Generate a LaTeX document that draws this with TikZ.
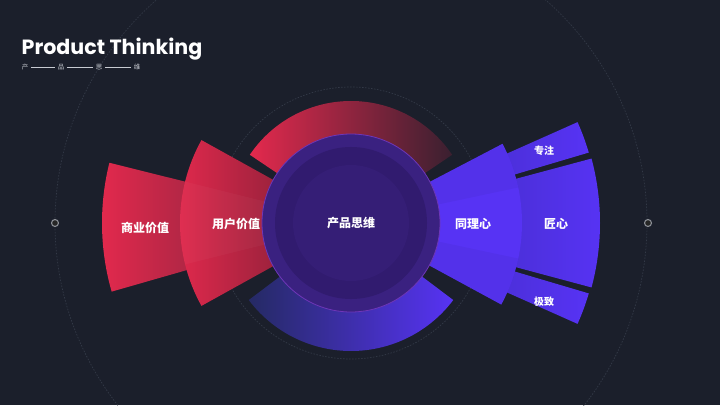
\documentclass[tikz,border=0pt]{standalone}
\usepackage{fontspec}
\setmainfont{Poppins}
\newfontfamily\cjk{Noto Sans CJK SC}
\definecolor{bg}{HTML}{1B1F2B}
\definecolor{ringgray}{HTML}{333947}
\definecolor{redA}{HTML}{E3294D}
\definecolor{redB}{HTML}{A62643}
\definecolor{redfade}{HTML}{3A2030}
\definecolor{blueA}{HTML}{5733F4}
\definecolor{blueB}{HTML}{4A2FD6}
\definecolor{bluedark}{HTML}{252A64}
\definecolor{coreA}{HTML}{3A2180}
\definecolor{coreB}{HTML}{311B6F}
\definecolor{coreC}{HTML}{351E76}
\definecolor{coreedge}{HTML}{6E36B8}
\definecolor{subgray}{HTML}{C8CBD2}
\definecolor{knobgray}{HTML}{8A8D94}
\newcommand\sectorpath[4]{(#1:#4) arc[start angle=#1,end angle=#2,radius=#4] -- (#2:#3) arc[start angle=#2,end angle=#1,radius=#3] -- cycle}
\begin{document}
\begin{tikzpicture}[x=1pt,y=1pt,
  tag/.style={text=white,font=\cjk\bfseries\fontsize{12}{12}\selectfont,inner sep=1pt},
  smalltag/.style={text=white,font=\cjk\bfseries\fontsize{10}{10}\selectfont,inner sep=1pt},
  subtag/.style={text=subgray,font=\cjk\fontsize{6.5}{6.5}\selectfont,inner sep=0.5pt},
  ring/.style={draw=ringgray,line width=0.7pt,dash pattern=on 1.5pt off 1.5pt},
  knob/.style={circle,fill=black!85,draw=knobgray,line width=1.1pt,minimum size=7pt,inner sep=0pt}]
  \useasboundingbox (0,0) rectangle (720,405);
  \clip (0,0) rectangle (720,405);
  \fill[bg](0,0) rectangle (720,405);
  \coordinate (c) at (351,182);
  \draw[ring](c) circle[radius=296];
  \draw[ring](c) circle[radius=136];
  \node[knob] (knobleft) at (55,182) {};
  \node[knob] (knobright) at (648,182) {};
  \begin{scope}[shift={(c)}]
    \shade[left color=redA,right color=redfade] \sectorpath{34}{146}{70}{122};
    \shade[left color=bluedark,right color=blueA] \sectorpath{217}{323}{70}{128};
    \shade[left color=redA,right color=redB] \sectorpath{166}{196}{150}{249};
    \shade[left color=redA,right color=redB!85!black] \sectorpath{151}{209}{60}{171};
    \fill[white,opacity=.03] \sectorpath{166}{194}{60}{171};
    \shade[left color=blueB,right color=blueA] \sectorpath{-15}{15}{150}{249};
    \shade[left color=blueB,right color=blueA] \sectorpath{16.5}{24}{150}{248};
    \shade[left color=blueB,right color=blueA] \sectorpath{-24}{-16.5}{150}{248};
    \fill[blueA] \sectorpath{-28.5}{27.6}{60}{171};
    \fill[black,opacity=.04] \sectorpath{12}{27.6}{60}{171};
    \fill[black,opacity=.04] \sectorpath{-28.5}{-12}{60}{171};
    \filldraw[fill=coreA,draw=coreedge,line width=0.8pt](0,0) circle[radius=89];
    \fill[coreB](0,0) circle[radius=76];
    \fill[coreC](0,0) circle[radius=58];
  \end{scope}
  \node[tag] (core) at (c) {产品思维};
  \node[tag] (user) at (236,181) {用户价值};
  \node[tag] (biz) at (145,177) {商业价值};
  \node[tag] (empathy) at (473,181) {同理心};
  \node[tag] (craft) at (556,181) {匠心};
  \node[smalltag] (focus) at (544,254) {专注};
  \node[smalltag] (extreme) at (544,103) {极致};
  \node[anchor=base west,text=white,font=\bfseries\fontsize{20.6}{20.6}\selectfont,inner sep=0pt] (title) at (21.5,350) {Product Thinking};
  \node[subtag] (s1) at (25,338) {产};
  \node[subtag] (s2) at (61,338) {品};
  \node[subtag] (s3) at (99,338) {思};
  \node[subtag] (s4) at (137,338) {维};
  \draw[subgray,line width=0.5pt,shorten <=2pt,shorten >=2pt](s1) -- (s2);
  \draw[subgray,line width=0.5pt,shorten <=2pt,shorten >=2pt](s2) -- (s3);
  \draw[subgray,line width=0.5pt,shorten <=2pt,shorten >=2pt](s3) -- (s4);
\end{tikzpicture}
\end{document}
